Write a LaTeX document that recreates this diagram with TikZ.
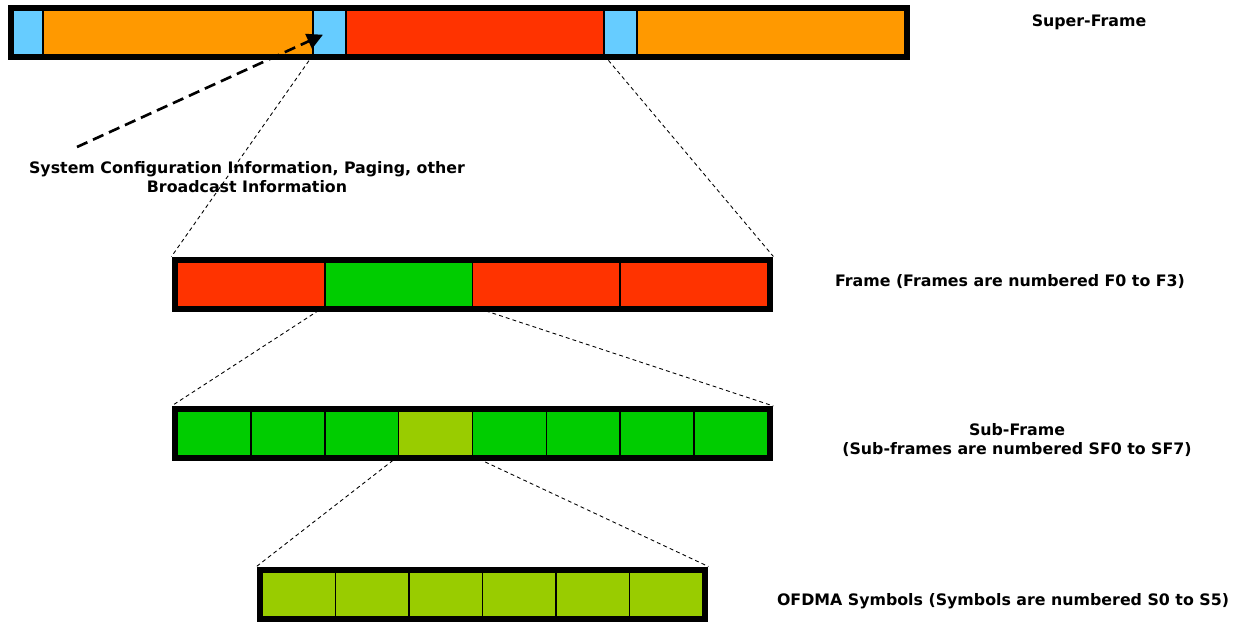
\documentclass[tikz,border=0pt]{standalone}
\usepackage{fontspec}
\setmainfont{DejaVu Sans}
\usetikzlibrary{arrows.meta,positioning,fit}
\definecolor{sforange}{HTML}{FF9900}
\definecolor{sfred}{HTML}{FF3300}
\definecolor{sfblue}{HTML}{66CCFF}
\definecolor{sfgreen}{HTML}{00CC00}
\definecolor{sflime}{HTML}{99CC00}

\begin{document}
\begin{tikzpicture}[x=0.02cm, y=-0.02cm]
        % Define styles
        \tikzstyle{cell} = [rectangle, draw, line width=0.9pt, minimum height=0.89cm,
            inner sep=0pt, outer sep=0pt]
        \tikzstyle{bar} = [rectangle, draw, line width=0.11cm, inner sep=0.055cm]
        \tikzstyle{zoomline} = [line width=0.5pt, dash pattern=on 2.2pt off 1.8pt]
        \tikzstyle{arrow} = [line width=1.5pt, dash pattern=on 6.5pt off 3.5pt,
            -{Triangle[length=9pt,width=9pt]}]
        \tikzstyle{note} = [font=\fontsize{9}{10.8}\selectfont\bfseries, align=center]

        \useasboundingbox (0,0) rectangle (1239,622);

        % Super-frame
        \node [cell, fill=sfblue, minimum width=0.6cm, anchor=north west] (b1) at (13,10.5) {};
        \node [cell, fill=sforange, minimum width=5.4cm, right=0pt of b1] (o1) {};
        \node [cell, fill=sfblue, minimum width=0.66cm, right=0pt of o1] (b2) {};
        \node [cell, fill=sfred, minimum width=5.16cm, right=0pt of b2] (r1) {};
        \node [cell, fill=sfblue, minimum width=0.66cm, right=0pt of r1] (b3) {};
        \node [cell, fill=sforange, minimum width=5.36cm, right=0pt of b3] (o2) {};
        \node [bar, fit=(b1)(o2)] (superbar) {};

        % Frames
        \node [cell, fill=sfred, minimum width=2.955cm, anchor=north west] (f0) at (177,262) {};
        \node [cell, fill=sfgreen, minimum width=2.955cm, right=0pt of f0] (f1) {};
        \node [cell, fill=sfred, minimum width=2.955cm, right=0pt of f1] (f2) {};
        \node [cell, fill=sfred, minimum width=2.955cm, right=0pt of f2] (f3) {};
        \node [bar, fit=(f0)(f3)] (framebar) {};

        % Sub-frames
        \node [cell, fill=sfgreen, minimum width=1.4775cm, anchor=north west] (s0) at (177,411.5) {};
        \foreach \i/\c [remember=\i as \j (initially 0)] in {1/sfgreen,2/sfgreen,3/sflime,4/sfgreen,5/sfgreen,6/sfgreen,7/sfgreen}
            \node [cell, fill=\c, minimum width=1.4775cm, right=0pt of s\j] (s\i) {};
        \node [bar, fit=(s0)(s7)] (subbar) {};

        % OFDMA symbols
        \node [cell, fill=sflime, minimum width=1.47cm, anchor=north west] (y0) at (262,572) {};
        \foreach \i [remember=\i as \j (initially 0)] in {1,...,5}
            \node [cell, fill=sflime, minimum width=1.47cm, right=0pt of y\j] (y\i) {};
        \node [bar, fit=(y0)(y5)] (symbar) {};

        % Labels
        \node [note] (suplabel) at (1089,22) {Super-Frame};
        \node [note] (syslabel) at (247,177) {System Configuration Information, Paging, other\\Broadcast Information};
        \node [note] (framelabel) at (1010,282) {Frame (Frames are numbered F0 to F3)};
        \node [note] (sublabel) at (1017,440) {Sub-Frame\\(Sub-frames are numbered SF0 to SF7)};
        \node [note] (symlabel) at (1003,601) {OFDMA Symbols (Symbols are numbered S0 to S5)};
        \coordinate (sysarrow) at (77,147);

        % Zoom lines
        \draw [zoomline] (b2.south west) -- (framebar.north west);
        \draw [zoomline] (b3.south west) -- (framebar.north east);
        \draw [zoomline] (f1.south west) -- (subbar.north west);
        \draw [zoomline] (f1.south east) -- (subbar.north east);
        \draw [zoomline] (s3.south west) -- (symbar.north west);
        \draw [zoomline] (s3.south east) -- (symbar.north east);

        % Arrows
        \draw [arrow] (sysarrow) -- ([shift={(10,2)}]b2.west);

    \end{tikzpicture}
\end{document}
